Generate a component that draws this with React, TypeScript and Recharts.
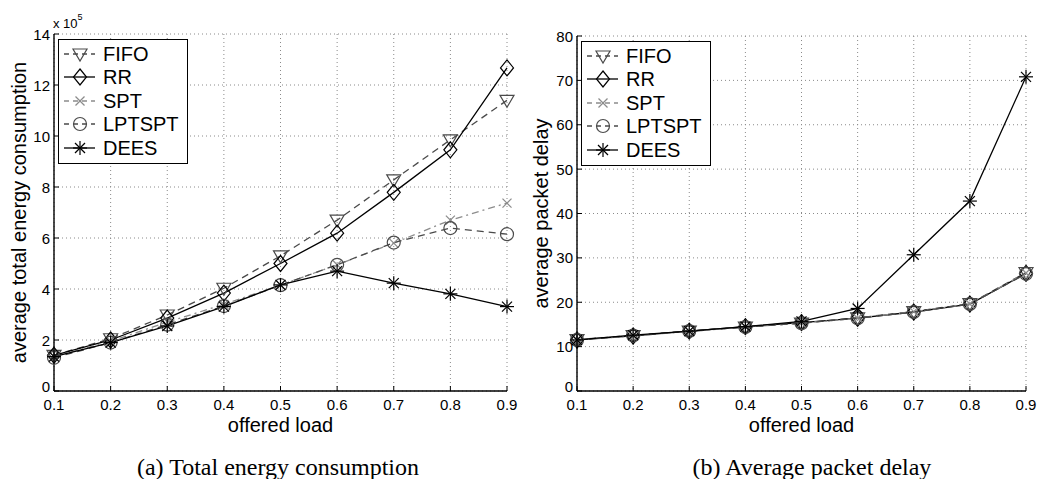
import { CartesianGrid, Legend, Line, LineChart, XAxis, YAxis } from "recharts";

// offered load (x axis)
const LOAD = [0.1, 0.2, 0.3, 0.4, 0.5, 0.6, 0.7, 0.8, 0.9];

// (a) total energy consumption, in units of 10^5
const ENERGY_FIFO = [1.4, 2.05, 2.98, 4.03, 5.3, 6.7, 8.28, 9.85, 11.4];
const ENERGY_RR = [1.4, 2.0, 2.86, 3.84, 5.0, 6.19, 7.79, 9.46, 12.67];
const ENERGY_SPT = [1.35, 1.95, 2.7, 3.4, 4.15, 4.95, 5.8, 6.7, 7.37];
const ENERGY_LPTSPT = [1.3, 1.9, 2.6, 3.33, 4.15, 4.95, 5.82, 6.39, 6.15];
const ENERGY_DEES = [1.35, 1.9, 2.55, 3.31, 4.16, 4.7, 4.23, 3.81, 3.31];

// (b) average packet delay
const DELAY_FIFO = [11.6, 12.5, 13.5, 14.4, 15.3, 16.5, 17.9, 19.7, 26.7];
const DELAY_RR = [11.5, 12.4, 13.5, 14.5, 15.4, 16.4, 17.8, 19.6, 26.5];
const DELAY_SPT = [11.5, 12.4, 13.4, 14.4, 15.3, 16.4, 17.9, 19.6, 26.6];
const DELAY_LPTSPT = [11.5, 12.5, 13.5, 14.4, 15.3, 16.4, 17.8, 19.6, 26.4];
const DELAY_DEES = [11.5, 12.6, 13.5, 14.5, 15.7, 18.6, 30.7, 42.8, 70.8];

const ENERGY_TICKS = [0, 2, 4, 6, 8, 10, 12, 14];
const DELAY_TICKS = [0, 10, 20, 30, 40, 50, 60, 70, 80];

const SERIES = ["FIFO", "RR", "SPT", "LPTSPT", "DEES"];

const LOOK: Record<string, { color: string; dash?: string; mark: string }> = {
  FIFO: { color: "#4a4a4a", dash: "7 5", mark: "tri" },
  RR: { color: "#000000", mark: "dia" },
  SPT: { color: "#8c8c8c", dash: "7 4 2 4", mark: "x" },
  LPTSPT: { color: "#4a4a4a", dash: "7 5", mark: "circ" },
  DEES: { color: "#000000", mark: "star" },
};

const SANS = "'Liberation Sans', Arial, Helvetica, sans-serif";

function makeRows(fifo: number[], rr: number[], spt: number[], lpt: number[], dees: number[]) {
  return LOAD.map((load, i) => ({
    load,
    FIFO: fifo[i],
    RR: rr[i],
    SPT: spt[i],
    LPTSPT: lpt[i],
    DEES: dees[i],
  }));
}

const energyRows = makeRows(ENERGY_FIFO, ENERGY_RR, ENERGY_SPT, ENERGY_LPTSPT, ENERGY_DEES);
const delayRows = makeRows(DELAY_FIFO, DELAY_RR, DELAY_SPT, DELAY_LPTSPT, DELAY_DEES);

function Marker({ kind, cx, cy, color }: { kind: string; cx: number; cy: number; color: string }) {
  const s = { stroke: color, strokeWidth: 1.2, fill: "none" };
  if (kind === "tri")
    return <polygon points={`${cx - 7},${cy - 5} ${cx + 7},${cy - 5} ${cx},${cy + 7}`} {...s} />;
  if (kind === "dia")
    return <polygon points={`${cx},${cy - 8} ${cx + 6.5},${cy} ${cx},${cy + 8} ${cx - 6.5},${cy}`} {...s} />;
  if (kind === "circ") return <circle cx={cx} cy={cy} r={6.5} {...s} />;
  if (kind === "x")
    return (
      <g {...s}>
        <line x1={cx - 4.5} y1={cy - 4.5} x2={cx + 4.5} y2={cy + 4.5} />
        <line x1={cx - 4.5} y1={cy + 4.5} x2={cx + 4.5} y2={cy - 4.5} />
      </g>
    );
  return (
    <g {...s}>
      <line x1={cx} y1={cy - 7} x2={cx} y2={cy + 7} />
      <line x1={cx - 7} y1={cy} x2={cx + 7} y2={cy} />
      <line x1={cx - 5} y1={cy - 5} x2={cx + 5} y2={cy + 5} />
      <line x1={cx - 5} y1={cy + 5} x2={cx + 5} y2={cy - 5} />
    </g>
  );
}

// MATLAB style ticks: pointing inwards on all four sides
const BottomTick = (p: any) => (
  <g>
    <line x1={p.x} y1={p.y} x2={p.x} y2={p.y - 5} stroke="#000" />
    <text x={p.x} y={p.y + 13} textAnchor="middle" dominantBaseline="central" fontSize={15} fontFamily={SANS} fill="#000">
      {p.payload.value}
    </text>
  </g>
);
const TopTick = (p: any) => <line x1={p.x} y1={p.y} x2={p.x} y2={p.y + 5} stroke="#000" />;
const LeftTick = (p: any) => (
  <g>
    <line x1={p.x} y1={p.y} x2={p.x + 5} y2={p.y} stroke="#000" />
    <text
      x={p.x - 4}
      y={p.payload.value === 0 ? p.y - 5 : p.y}
      textAnchor="end"
      dominantBaseline="central"
      fontSize={15}
      fontFamily={SANS}
      fill="#000"
    >
      {p.payload.value}
    </text>
  </g>
);
const RightTick = (p: any) => <line x1={p.x} y1={p.y} x2={p.x - 5} y2={p.y} stroke="#000" />;

function LegendBox() {
  return (
    <div
      style={{
        border: "1.5px solid #000",
        background: "#fff",
        width: 128,
        padding: "2px 0 3px 0",
        fontFamily: SANS,
        fontSize: 20,
        color: "#000",
      }}
    >
      {SERIES.map((name) => {
        const look = LOOK[name];
        return (
          <div key={name} style={{ display: "flex", alignItems: "center", height: 23.5 }}>
            <svg width={44} height={20} style={{ flex: "none" }}>
              <line x1={5} y1={10} x2={36} y2={10} stroke={look.color} strokeWidth={1.3} strokeDasharray={look.dash ? "5 4" : undefined} />
              <Marker kind={look.mark} cx={21} cy={10} color={look.color} />
            </svg>
            <span style={{ lineHeight: "20px" }}>{name}</span>
          </div>
        );
      })}
    </div>
  );
}

function Panel(props: {
  left: number;
  width: number;
  top: number;
  yAxisW: number;
  yMax: number;
  yTicks: number[];
  yLabel: string;
  yLabelX: number;
  rows: any[];
  exponent?: boolean;
}) {
  const { left, width, top, yAxisW, yMax, yTicks, yLabel, yLabelX, rows, exponent } = props;
  return (
    <div style={{ position: "absolute", left, top: 0, width, height: 479 }}>
      <LineChart width={width} height={479} data={rows} margin={{ top, right: 13, bottom: 58, left: 0 }}>
        <CartesianGrid xAxisId="b" yAxisId="l" stroke="#8a8a8a" strokeDasharray="1 3" />
        <XAxis
          xAxisId="b"
          dataKey="load"
          type="number"
          domain={[0.1, 0.9]}
          ticks={LOAD}
          interval={0}
          height={30}
          tickSize={0}
          tickMargin={0}
          tickLine={false}
          axisLine={{ stroke: "#000", strokeWidth: 1.4 }}
          tick={BottomTick}
          label={(p: any) => (
            <text
              x={p.viewBox.x + p.viewBox.width / 2}
              y={p.viewBox.y + 34}
              textAnchor="middle"
              dominantBaseline="central"
              fontSize={20}
              fontFamily={SANS}
              fill="#000"
            >
              offered load
            </text>
          )}
        />
        <XAxis
          xAxisId="t"
          orientation="top"
          dataKey="load"
          type="number"
          domain={[0.1, 0.9]}
          ticks={LOAD}
          interval={0}
          height={0}
          tickSize={0}
          tickMargin={0}
          tickLine={false}
          axisLine={{ stroke: "#000", strokeWidth: 1.4 }}
          tick={TopTick}
        />
        <YAxis
          yAxisId="l"
          domain={[0, yMax]}
          ticks={yTicks}
          interval={0}
          width={yAxisW}
          tickSize={0}
          tickMargin={0}
          tickLine={false}
          axisLine={{ stroke: "#000", strokeWidth: 1.4 }}
          tick={LeftTick}
          label={(p: any) => {
            const cy = p.viewBox.y + p.viewBox.height / 2;
            return (
              <g>
                <text
                  x={yLabelX}
                  y={cy}
                  transform={`rotate(-90 ${yLabelX} ${cy})`}
                  textAnchor="middle"
                  dominantBaseline="central"
                  fontSize={20}
                  fontFamily={SANS}
                  fill="#000"
                >
                  {yLabel}
                </text>
                {exponent && (
                  <text x={53} y={28} fontSize={13} fontFamily={SANS} fill="#000">
                    x 10
                    <tspan dy={-8} fontSize={9}>
                      5
                    </tspan>
                  </text>
                )}
              </g>
            );
          }}
        />
        <YAxis
          yAxisId="r"
          orientation="right"
          domain={[0, yMax]}
          ticks={yTicks}
          interval={0}
          width={0}
          tickSize={0}
          tickMargin={0}
          tickLine={false}
          axisLine={{ stroke: "#000", strokeWidth: 1.4 }}
          tick={RightTick}
        />
        {SERIES.map((name) => {
          const look = LOOK[name];
          return (
            <Line
              key={name}
              xAxisId="b"
              yAxisId="l"
              dataKey={name}
              stroke={look.color}
              strokeWidth={1.3}
              strokeDasharray={look.dash}
              isAnimationActive={false}
              activeDot={false}
              dot={(d: any) => (
                <Marker key={`${name}-${d.index}`} kind={look.mark} cx={d.cx} cy={d.cy} color={look.color} />
              )}
            />
          );
        })}
        <Legend
          layout="vertical"
          align="center"
          verticalAlign="middle"
          wrapperStyle={{ left: yAxisW + 4, top: top + 5, width: "auto" }}
          content={() => <LegendBox />}
        />
      </LineChart>
    </div>
  );
}

export default function App() {
  const caption = {
    position: "absolute" as const,
    top: 455,
    width: 400,
    textAlign: "center" as const,
    fontFamily: "'Liberation Serif', 'Times New Roman', serif",
    fontSize: 24,
    lineHeight: "24px",
    color: "#000",
  };
  return (
    <div style={{ position: "absolute", left: 0, top: 0, width: 1039, height: 479, background: "#fff" }}>
      <Panel
        left={0}
        width={520}
        top={34}
        yAxisW={54}
        yMax={14}
        yTicks={ENERGY_TICKS}
        yLabel="average total energy consumption"
        yLabelX={19}
        rows={energyRows}
        exponent
      />
      <Panel
        left={520}
        width={519}
        top={36}
        yAxisW={57}
        yMax={80}
        yTicks={DELAY_TICKS}
        yLabel="average packet delay"
        yLabelX={21}
        rows={delayRows}
      />
      <div style={{ ...caption, left: 78 }}>(a) Total energy consumption</div>
      <div style={{ ...caption, left: 612 }}>(b) Average packet delay</div>
    </div>
  );
}
